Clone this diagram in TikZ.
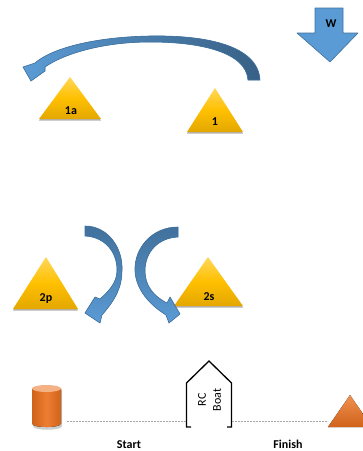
\documentclass[tikz,border=0pt]{standalone}
\usepackage{fontspec}
\setmainfont{Carlito}
\usetikzlibrary{shadows}
\definecolor{gold}{HTML}{FFC000}
\definecolor{goldL}{HTML}{FFD75A}
\definecolor{goldD}{HTML}{E3A700}
\definecolor{blueF}{HTML}{5B9BD5}
\definecolor{blueD}{HTML}{41719C}
\definecolor{orng}{HTML}{ED7D31}
\definecolor{orngL}{HTML}{F4B183}
\definecolor{orngD}{HTML}{D0631A}
\tikzset{
  buoy/.style={top color=goldL, bottom color=goldD, middle color=gold, draw=none,
    drop shadow={shadow xshift=0pt, shadow yshift=-1.5pt, opacity=0.3, fill=black}},
  blk/.style={fill=blueF, draw=blueD, line width=0.6pt, line join=round},
  lbl/.style={font=\bfseries\fontsize{12}{12}\selectfont, inner sep=0pt},
  plain/.style={font=\fontsize{12}{12}\selectfont, inner sep=0pt},
  lineline/.style={draw=gray!70, dash pattern=on 2pt off 1pt, line width=0.6pt},
  boatline/.style={draw=black, line width=1.3pt, line join=miter},
}
\begin{document}
\begin{tikzpicture}[x=1pt,y=-1pt]
\clip (0,0) rectangle (363,451);
\fill[white] (0,0) rectangle (363,451);

% wind arrow
\filldraw[blk] (315,8) -- (343,8) -- (343,33) -- (358,33) -- (330,62) -- (297,33) -- (315,33) -- cycle;
\node[lbl] (w) at (331,24) {W};

% big curved arrow 1 -> 1a
\filldraw[blk, left color=blueF, right color=blueD!85!black] (260,80) .. controls (258,45) and (205,35) .. (150,36)
  .. controls (95,37) and (52,48) .. (35,63) -- (23,67) -- (31,81) -- (45,71) -- (45,67)
  .. controls (62,55) and (100,42) .. (150,42)
  .. controls (200,42) and (246,52) .. (248,80) -- cycle;

% marks 1a and 1
\path[buoy] (39,119) -- (101,119) -- (70,77) -- cycle;
\node[lbl] (m1a) at (71,111) {1a};
\path[buoy] (187,132) -- (243,132) -- (215,88) -- cycle;
\node[lbl] (m1) at (215,122) {1};

% marks 2p and 2s
\path[buoy] (13,309) -- (78,309) -- (46,257) -- cycle;
\node[lbl] (m2p) at (46,299) {2p};
\path[buoy] (174,306) -- (243,306) -- (208,257) -- cycle;
\node[lbl] (m2s) at (209,297) {2s};

% small curved arrows
\filldraw[blk, top color=blueD, bottom color=blueF] (85,226) .. controls (108,226) and (123,248) .. (122,270)
  .. controls (122,288) and (115,300) .. (102,315) -- (100,323) -- (85,313) -- (95,297) -- (100,299)
  .. controls (110,290) and (117,282) .. (117,270)
  .. controls (117,252) and (105,237) .. (85,236) -- cycle;
\filldraw[blk, top color=blueD, bottom color=blueF] (178,227) .. controls (152,227) and (134,248) .. (135,271)
  .. controls (136,290) and (150,305) .. (166,315) -- (169,323) -- (180,314) -- (170,297) -- (167,303)
  .. controls (153,296) and (145,285) .. (145,271)
  .. controls (145,252) and (158,238) .. (178,237) -- cycle;

% start pin (cylinder)
\fill[opacity=0.2,black] (33,390) -- (33,426) .. controls (33,431) and (62,431) .. (62,426) -- (62,390) -- cycle;
\fill[left color=orngD, right color=orngD, middle color=orng]
  (32,388.5) -- (32,423.5) .. controls (32,428.2) and (61,428.2) .. (61,423.5) -- (61,388.5) -- cycle;
\fill[orngL] (46.5,388.5) ellipse [x radius=14.5, y radius=3.5];

% finish mark
\fill[top color=orng!85, bottom color=orngD] (328,427) -- (350,395) -- (372,427) -- cycle;

% RC boat
\draw[boatline] (191,427) -- (186.5,427) -- (186.5,383) -- (209,361) -- (231.5,383) -- (231.5,427) -- (227,427);
\node[plain, rotate=90] (rc) at (202,400) {RC};
\node[plain, rotate=90] (boat) at (217,400) {Boat};

% start / finish lines
\coordinate (sl) at (67,421);
\coordinate (sr) at (186,421);
\coordinate (fl) at (232,421);
\coordinate (fr) at (328,421);
\draw[lineline] (sl) -- (sr);
\draw[lineline] (fl) -- (fr);

\node[lbl, anchor=base] (start) at (129,448.5) {Start};
\node[lbl, anchor=base] (finish) at (288,448.5) {Finish};
\end{tikzpicture}
\end{document}
